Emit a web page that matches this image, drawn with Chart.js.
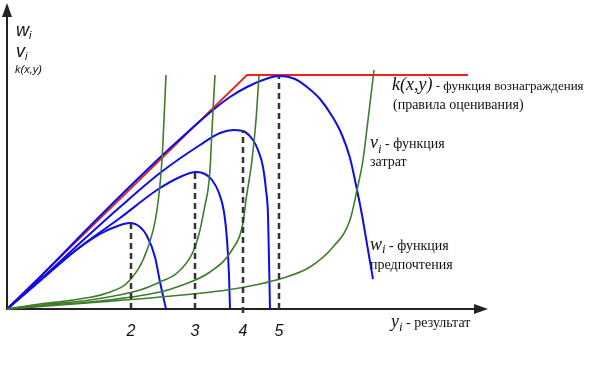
<!DOCTYPE html>
<html>
<head>
<meta charset="utf-8">
<script src="https://cdn.jsdelivr.net/npm/chart.js@4/dist/chart.umd.min.js"></script>
<style>
    body { margin: 0; background: #fff; }
</style>
</head>
<body>
<canvas id="rewardChart" width="606" height="372"></canvas>
<script>
// Values (x = result y_i, y = value)
// k(x,y) - reward function
const rewardX = [0, 240, 461];
const rewardY = [0, 234, 234];

// w_i - preference functions, one for each result 2..5
const pref1X = [0, 33, 60, 93, 108, 123, 133, 140, 148, 153, 159];
const pref1Y = [0, 29, 52, 75, 82, 86, 82, 73, 52, 27, 0];
const pref2X = [0, 33, 73, 113, 150, 173, 189, 198, 205, 212, 217, 220, 222, 223];
const pref2Y = [0, 28, 62, 91, 119, 132, 137, 135, 129, 116, 97, 69, 34, 0];
const pref3X = [0, 33, 73, 113, 153, 193, 213, 227, 238, 246, 251, 256, 259, 261, 262, 263];
const pref3Y = [0, 29, 66, 102, 136, 164, 176, 179, 177, 169, 159, 142, 119, 94, 49, 0];
const pref4X = [0, 33, 93, 143, 173, 206, 223, 240, 256, 272, 288, 300, 313, 325, 335, 343, 349, 355, 361, 366];
const pref4Y = [0, 32, 93, 142, 170, 199, 212, 222, 229, 233, 230, 222, 210, 193, 174, 151, 124, 94, 59, 30];

// v_i - cost functions
const cost1X = [0, 33, 66, 100, 123, 140, 150, 155, 157, 159];
const cost1Y = [0, 5, 9, 16, 29, 59, 99, 149, 189, 234];
const cost2X = [0, 43, 83, 133, 153, 170, 186, 193, 198, 201, 203, 205, 208];
const cost2Y = [0, 5, 9, 19, 27, 36, 57, 79, 104, 119, 139, 179, 234];
const cost3X = [0, 43, 93, 153, 170, 203, 225, 236, 239, 245, 249, 252];
const cost3Y = [0, 4, 8, 17, 22, 37, 59, 86, 109, 149, 189, 234];
const cost4X = [0, 93, 153, 220, 253, 276, 303, 326, 343, 350, 356, 361, 367];
const cost4Y = [0, 7, 12, 19, 25, 31, 42, 62, 89, 119, 149, 189, 239];

// optimal results (dashed lines) and their tick labels
const optimumX = [124, 188, 236, 272];
const optimumY = [86, 137, 179, 233];
const dashBottom = [0, 0, -4, 0];
const tickLabels = ['2', '3', '4', '5'];

function toPoints(xs, ys) {
    return xs.map((x, i) => ({ x: x, y: ys[i] }));
}

const blue = '#0d0de6';
const green = '#3f7c2b';
const red = '#ee2020';

function curve(xs, ys, color, width) {
    return {
        data: toPoints(xs, ys),
        borderColor: color,
        borderWidth: width,
        showLine: true,
        pointRadius: 0,
        fill: false,
        cubicInterpolationMode: 'monotone'
    };
}

const datasets = [];
optimumX.forEach((x, i) => {
    datasets.push({
        data: [{ x: x, y: dashBottom[i] }, { x: x, y: optimumY[i] }],
        borderColor: '#333',
        borderWidth: 2.5,
        borderDash: [6, 4],
        showLine: true,
        pointRadius: 0
    });
});
datasets.push(curve(cost1X, cost1Y, green, 1.6));
datasets.push(curve(cost2X, cost2Y, green, 1.6));
datasets.push(curve(cost3X, cost3Y, green, 1.6));
datasets.push(curve(cost4X, cost4Y, green, 1.6));
datasets.push(curve(pref1X, pref1Y, blue, 2));
datasets.push(curve(pref2X, pref2Y, blue, 2));
datasets.push(curve(pref3X, pref3Y, blue, 2));
datasets.push(curve(pref4X, pref4Y, blue, 2));
datasets.push({
    data: toPoints(rewardX, rewardY),
    borderColor: red,
    borderWidth: 1.8,
    showLine: true,
    pointRadius: 0,
    tension: 0
});

// draw pieces of text one after another (for subscripts)
function drawParts(ctx, x, y, parts) {
    parts.forEach(p => {
        ctx.font = p.font;
        ctx.fillText(p.t, x, y + (p.dy || 0));
        x += ctx.measureText(p.t).width;
    });
}

const axesPlugin = {
    id: 'axesPlugin',
    beforeDatasetsDraw(chart) {
        const ctx = chart.ctx;
        const xs = chart.scales.x, ys = chart.scales.y;
        const x0 = xs.getPixelForValue(0), y0 = ys.getPixelForValue(0);
        const xEnd = xs.getPixelForValue(480), yEnd = ys.getPixelForValue(304);
        ctx.save();
        ctx.strokeStyle = '#222';
        ctx.fillStyle = '#222';
        ctx.lineWidth = 2;
        ctx.beginPath();
        ctx.moveTo(x0, y0 + 1);
        ctx.lineTo(x0, yEnd + 8);
        ctx.moveTo(x0 - 1, y0);
        ctx.lineTo(xEnd - 8, y0);
        ctx.stroke();
        // arrow heads
        ctx.beginPath();
        ctx.moveTo(x0, yEnd - 2);
        ctx.lineTo(x0 - 5, yEnd + 12);
        ctx.lineTo(x0 + 5, yEnd + 12);
        ctx.closePath();
        ctx.fill();
        ctx.beginPath();
        ctx.moveTo(xEnd + 1, y0);
        ctx.lineTo(xEnd - 13, y0 - 5);
        ctx.lineTo(xEnd - 13, y0 + 5);
        ctx.closePath();
        ctx.fill();
        ctx.restore();
    },
    afterDraw(chart) {
        const ctx = chart.ctx;
        const xs = chart.scales.x;
        ctx.save();
        ctx.fillStyle = '#111';
        ctx.textBaseline = 'alphabetic';
        // tick labels
        ctx.textAlign = 'center';
        ctx.font = 'italic 16px "Liberation Sans", Arial, sans-serif';
        optimumX.forEach((x, i) => {
            ctx.fillText(tickLabels[i], xs.getPixelForValue(x), 336);
        });
        ctx.textAlign = 'left';
        // y axis labels
        const sansI = 'italic 18px "Liberation Sans", Arial, sans-serif';
        const sansSub = 'italic 11px "Liberation Sans", Arial, sans-serif';
        drawParts(ctx, 16, 36, [{ t: 'w', font: sansI }, { t: 'i', font: sansSub, dy: 3 }]);
        drawParts(ctx, 16, 57, [{ t: 'v', font: sansI }, { t: 'i', font: sansSub, dy: 3 }]);
        ctx.font = 'italic 11px "Liberation Sans", Arial, sans-serif';
        ctx.fillText('k(x,y)', 15, 73);
        // notes on the right
        const serifI = 'italic 18px "Liberation Serif", "Times New Roman", serif';
        const serifSub = 'italic 13px "Liberation Serif", "Times New Roman", serif';
        const serifK = '13px "Liberation Serif", "Times New Roman", serif';
        const serif = '14px "Liberation Serif", "Times New Roman", serif';
        drawParts(ctx, 392, 90, [
            { t: 'k(x,y)', font: serifI },
            { t: ' - функция вознаграждения', font: serifK }
        ]);
        drawParts(ctx, 393, 109, [{ t: '(правила оценивания)', font: serif }]);
        drawParts(ctx, 370, 148, [
            { t: 'v', font: serifI },
            { t: 'i', font: serifSub, dy: 5 },
            { t: ' - функция', font: serif }
        ]);
        drawParts(ctx, 370, 166, [{ t: 'затрат', font: serif }]);
        drawParts(ctx, 370, 250, [
            { t: 'w', font: serifI },
            { t: 'i', font: serifSub, dy: 3 },
            { t: ' - функция', font: serif }
        ]);
        drawParts(ctx, 370, 269, [{ t: 'предпочтения', font: serif }]);
        drawParts(ctx, 391, 327, [
            { t: 'y', font: serifI },
            { t: 'i', font: serifSub, dy: 4 },
            { t: ' - результат', font: serif }
        ]);
        ctx.restore();
    }
};

const ctxReward = document.getElementById('rewardChart').getContext('2d');
const rewardChart = new Chart(ctxReward, {
    type: 'scatter',
    data: { datasets: datasets },
    options: {
        responsive: false,
        animation: false,
        devicePixelRatio: 1,
        layout: {
            padding: { left: 7, right: 119, top: 5, bottom: 53 }
        },
        scales: {
            x: { type: 'linear', min: 0, max: 480, display: false },
            y: { type: 'linear', min: -10, max: 304, display: false }
        },
        plugins: {
            legend: { display: false },
            tooltip: { enabled: false }
        }
    },
    plugins: [axesPlugin]
});
</script>
</body>
</html>
